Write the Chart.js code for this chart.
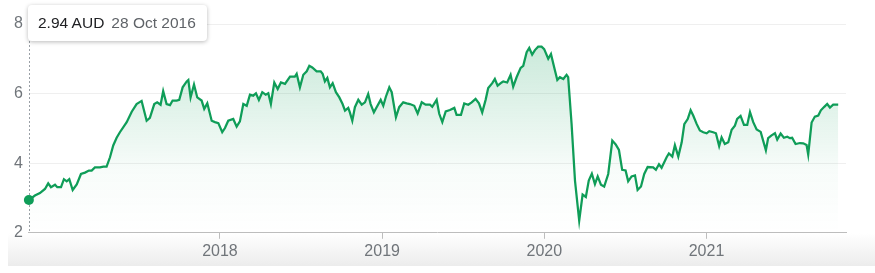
<!DOCTYPE html>
<html>
<head>
<meta charset="utf-8">
<script src="https://cdn.jsdelivr.net/npm/chart.js@4/dist/chart.umd.min.js"></script>
<style>
  html, body { margin: 0; padding: 0; background: #fff; }
  #wrap { position: relative; width: 875px; height: 273px; overflow: hidden; }
  #shade { position: absolute; left: 8px; right: 0; top: 233px; height: 33px;
    background: linear-gradient(to bottom, rgba(240,240,240,0), #ececec); }
  #box { position: absolute; left: 0; top: 0; width: 875px; height: 273px; }
  #tip { position: absolute; left: 28px; top: 5px; height: 36px; width: 179px; box-sizing: border-box;
    background: #fff; border-radius: 4px; box-shadow: 0 1px 4px rgba(0,0,0,0.28);
    font: 15.5px Arial, "Liberation Sans", sans-serif; line-height: 36px; padding-left: 10px; white-space: nowrap; }
  #tip .v { color: #202124; }
  #tip .d { color: #5f6368; margin-left: 7px; }
</style>
</head>
<body>
<div id="wrap">
  <div id="shade"></div>
  <div id="box"><canvas id="myChart"></canvas></div>
  <div id="tip"><span class="v">2.94 AUD</span><span class="d">28 Oct 2016</span></div>
</div>
<script>
// decimal years
var dates = [
  2016.822, 2016.859, 2016.890, 2016.921, 2016.941, 2016.958, 2016.983, 2016.997, 2017.020, 2017.038,
  2017.055, 2017.071, 2017.092, 2017.117, 2017.143, 2017.168, 2017.192, 2017.209, 2017.229, 2017.260,
  2017.281, 2017.301, 2017.322, 2017.342, 2017.363, 2017.383, 2017.425, 2017.456, 2017.486, 2017.517,
  2017.548, 2017.568, 2017.595, 2017.613, 2017.634, 2017.650, 2017.671, 2017.692, 2017.708, 2017.733,
  2017.749, 2017.770, 2017.795, 2017.805, 2017.819, 2017.840, 2017.860, 2017.887, 2017.903, 2017.922,
  2017.949, 2017.969, 2017.990, 2018.014, 2018.031, 2018.051, 2018.082, 2018.103, 2018.123, 2018.144,
  2018.165, 2018.185, 2018.205, 2018.222, 2018.240, 2018.261, 2018.282, 2018.298, 2018.314, 2018.335,
  2018.356, 2018.376, 2018.401, 2018.432, 2018.462, 2018.473, 2018.493, 2018.514, 2018.535, 2018.551,
  2018.569, 2018.596, 2018.621, 2018.633, 2018.647, 2018.662, 2018.678, 2018.695, 2018.715, 2018.736,
  2018.756, 2018.771, 2018.791, 2018.801, 2018.816, 2018.832, 2018.853, 2018.874, 2018.894, 2018.914,
  2018.929, 2018.949, 2018.966, 2018.991, 2019.007, 2019.023, 2019.044, 2019.059, 2019.085, 2019.105,
  2019.130, 2019.151, 2019.171, 2019.198, 2019.219, 2019.244, 2019.268, 2019.295, 2019.309, 2019.336,
  2019.352, 2019.371, 2019.392, 2019.418, 2019.445, 2019.459, 2019.486, 2019.506, 2019.531, 2019.552,
  2019.576, 2019.597, 2019.617, 2019.638, 2019.654, 2019.679, 2019.695, 2019.712, 2019.737, 2019.747,
  2019.771, 2019.792, 2019.808, 2019.829, 2019.854, 2019.870, 2019.891, 2019.907, 2019.925, 2019.942,
  2019.962, 2019.983, 2019.999, 2020.024, 2020.041, 2020.061, 2020.080, 2020.096, 2020.117, 2020.137,
  2020.147, 2020.168, 2020.189, 2020.215, 2020.236, 2020.256, 2020.274, 2020.293, 2020.312, 2020.329,
  2020.349, 2020.369, 2020.394, 2020.419, 2020.440, 2020.460, 2020.480, 2020.501, 2020.517, 2020.538,
  2020.559, 2020.575, 2020.596, 2020.616, 2020.637, 2020.671, 2020.688, 2020.707, 2020.723, 2020.754,
  2020.768, 2020.789, 2020.805, 2020.826, 2020.847, 2020.863, 2020.884, 2020.902, 2020.918, 2020.939,
  2020.959, 2020.980, 2021.001, 2021.017, 2021.041, 2021.058, 2021.078, 2021.093, 2021.113, 2021.134,
  2021.155, 2021.175, 2021.189, 2021.210, 2021.231, 2021.251, 2021.268, 2021.288, 2021.309, 2021.334,
  2021.366, 2021.380, 2021.401, 2021.422, 2021.436, 2021.457, 2021.477, 2021.498, 2021.514, 2021.528,
  2021.549, 2021.576, 2021.596, 2021.617, 2021.627, 2021.648, 2021.668, 2021.689, 2021.705, 2021.726,
  2021.744, 2021.761, 2021.781, 2021.812
];
// AUD
var prices = [
  2.94, 3.07, 3.14, 3.26, 3.42, 3.31, 3.38, 3.31, 3.31, 3.54,
  3.48, 3.54, 3.23, 3.39, 3.69, 3.73, 3.79, 3.79, 3.88, 3.88,
  3.90, 3.90, 4.17, 4.51, 4.73, 4.89, 5.18, 5.48, 5.70, 5.79,
  5.22, 5.30, 5.70, 5.75, 5.68, 6.07, 5.70, 5.67, 5.80, 5.80,
  5.82, 6.18, 6.35, 6.39, 5.89, 6.26, 5.89, 5.80, 5.56, 5.72,
  5.22, 5.18, 5.15, 4.89, 5.01, 5.22, 5.27, 5.05, 5.20, 5.70,
  5.65, 5.97, 5.94, 6.01, 5.82, 6.04, 5.97, 6.01, 5.70, 6.32,
  6.13, 6.32, 6.28, 6.49, 6.49, 6.57, 6.18, 6.54, 6.64, 6.80,
  6.75, 6.64, 6.64, 6.57, 6.35, 6.45, 6.18, 6.30, 6.04, 5.89,
  5.70, 5.51, 5.59, 5.46, 5.22, 5.61, 5.82, 5.68, 5.75, 5.99,
  5.70, 5.46, 5.61, 5.82, 5.65, 5.91, 6.18, 6.04, 5.32, 5.61,
  5.75, 5.72, 5.70, 5.65, 5.43, 5.75, 5.68, 5.68, 5.62, 5.82,
  5.42, 5.18, 5.49, 5.53, 5.59, 5.39, 5.39, 5.72, 5.68, 5.75,
  5.85, 5.72, 5.46, 5.82, 6.16, 6.30, 6.42, 6.23, 6.32, 6.35,
  6.32, 6.54, 6.20, 6.47, 6.74, 6.80, 7.19, 7.31, 7.12, 7.25,
  7.35, 7.35, 7.28, 7.00, 7.14, 6.75, 6.39, 6.47, 6.42, 6.54,
  6.47, 5.13, 3.50, 2.35, 3.10, 3.03, 3.50, 3.70, 3.40, 3.62,
  3.38, 3.33, 3.69, 4.65, 4.54, 4.38, 3.81, 3.79, 3.48, 3.62,
  3.65, 3.23, 3.33, 3.69, 3.89, 3.88, 3.81, 3.97, 3.87, 4.17,
  4.28, 4.19, 4.52, 4.19, 4.60, 5.12, 5.27, 5.52, 5.37, 5.13,
  4.94, 4.89, 4.86, 4.92, 4.89, 4.86, 4.49, 4.74, 4.55, 4.60,
  4.96, 5.08, 5.27, 5.36, 5.10, 5.10, 5.47, 5.18, 4.97, 4.90,
  4.37, 4.72, 4.80, 4.86, 4.68, 4.85, 4.73, 4.76, 4.72, 4.73,
  4.55, 4.58, 4.57, 4.52, 4.25, 5.17, 5.34, 5.37, 5.52, 5.62,
  5.70, 5.60, 5.68, 5.68
];
var yearTicks = [2018, 2019, 2020, 2021];
var xEnd = 2021.86;

const green = '#0f9d58';
const labelFont = { family: 'Arial, "Liberation Sans", sans-serif', size: 16 };

const hoverLine = {
  id: 'hoverLine',
  beforeDatasetsDraw(chart) {
    const pt = chart.getDatasetMeta(0).data[0];
    const ctx = chart.ctx;
    ctx.save();
    ctx.strokeStyle = '#9aa0a6';
    ctx.lineWidth = 1;
    ctx.setLineDash([2, 2]);
    ctx.beginPath();
    ctx.moveTo(Math.round(pt.x) + 0.5, 41);
    ctx.lineTo(Math.round(pt.x) + 0.5, chart.chartArea.bottom);
    ctx.stroke();
    ctx.restore();
  }
};

const ctx = document.getElementById('myChart');
const chart1 = new Chart(ctx, {
  type: 'line',
  data: {
    datasets: [{
      data: dates.map((d, i) => ({ x: d, y: prices[i] })),
      borderColor: green,
      borderWidth: 2.25,
      tension: 0,
      clip: false,
      fill: 'start',
      backgroundColor: (c) => {
        const a = c.chart.chartArea;
        if (!a) return 'rgba(15,157,88,0.1)';
        const g = c.chart.ctx.createLinearGradient(0, a.top, 0, a.bottom);
        g.addColorStop(0, 'rgba(15,157,88,0.25)');
        g.addColorStop(0.7, 'rgba(15,157,88,0.03)');
        g.addColorStop(1, 'rgba(15,157,88,0)');
        return g;
      },
      pointRadius: (c) => c.dataIndex === 0 ? 5 : 0,
      pointBackgroundColor: green,
      pointBorderWidth: 0
    }]
  },
  options: {
    responsive: true,
    maintainAspectRatio: false,
    animation: false,
    layout: { padding: { left: 8, right: 29, top: 24, bottom: 9 } },
    plugins: { legend: { display: false }, tooltip: { enabled: false } },
    scales: {
      x: {
        type: 'linear',
        min: dates[0],
        max: xEnd,
        afterBuildTicks: (s) => { s.ticks = yearTicks.map(v => ({ value: v })); },
        ticks: { color: '#70757a', font: labelFont, padding: 3, maxRotation: 0, callback: (v) => String(v) },
        grid: { drawOnChartArea: false, drawTicks: true, tickLength: 6, color: '#bdbdbd' },
        border: { display: true, color: '#bdbdbd' }
      },
      y: {
        min: 2,
        max: 8,
        ticks: { stepSize: 2, color: '#70757a', font: labelFont, padding: 6 },
        grid: { drawTicks: false, color: (c) => c.tick.value === 2 ? 'rgba(0,0,0,0)' : '#efefef' },
        border: { display: false }
      }
    }
  },
  plugins: [hoverLine]
});
</script>
</body>
</html>
